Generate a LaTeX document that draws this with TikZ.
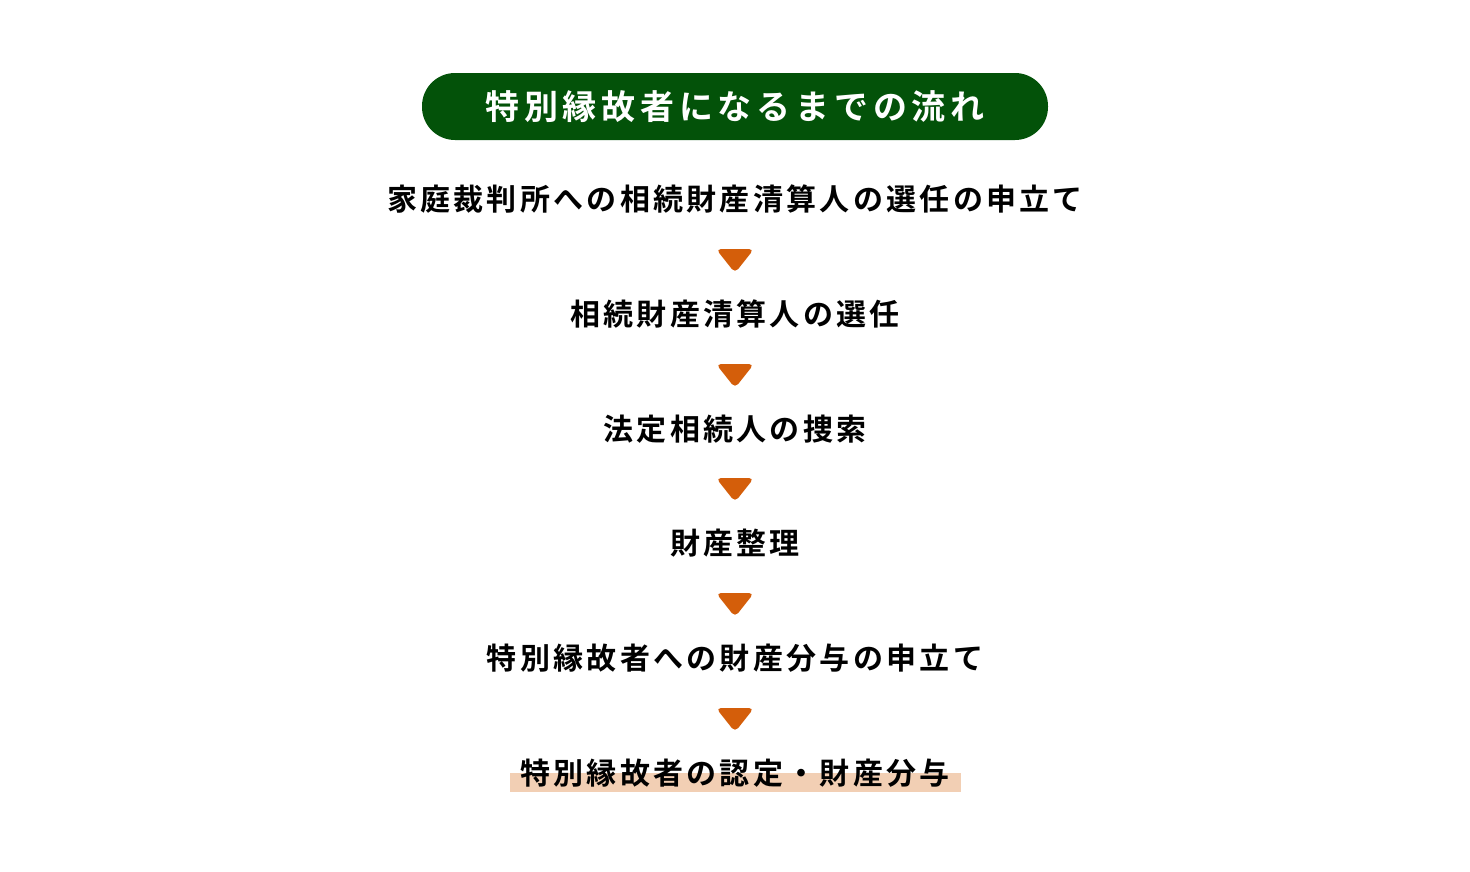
\documentclass[tikz,border=0pt]{standalone}
\usepackage{fontspec}
\usepackage{tikz}
\setmainfont{Noto Sans CJK JP}
\newfontfamily\headfont[LetterSpace=14]{Noto Sans CJK JP Bold}
\newfontfamily\stagefont[LetterSpace=11]{Noto Sans CJK JP Bold}
\definecolor{headgreen}{RGB}{3,82,9}
\definecolor{tiporange}{RGB}{212,94,10}
\definecolor{markpeach}{RGB}{242,207,180}

\begin{document}
\begin{tikzpicture}[x=1pt,y=-1pt,
  headbox/.style={fill=headgreen,text=white,rounded corners=33pt,
    minimum width=626pt,minimum height=67pt,inner sep=0pt,
    font=\headfont\fontsize{34}{34}\selectfont},
  stage/.style={inner sep=0pt,font=\stagefont\fontsize{30}{30}\selectfont}]
\useasboundingbox (0,0) rectangle (1470,871);

\node[headbox] (head) at (735,106.5) {特別縁故者になるまでの流れ};

% highlight under the last step
\fill[markpeach] (510,773) rectangle (961,792);

\node[stage] (s1) at (735,199) {家庭裁判所への相続財産清算人の選任の申立て};
\node[stage] (s2) at (735,314) {相続財産清算人の選任};
\node[stage] (s3) at (735,429) {法定相続人の捜索};
\node[stage] (s4) at (735,543) {財産整理};
\node[stage] (s5) at (735,658) {特別縁故者への財産分与の申立て};
\node[stage] (s6) at (735,773) {特別縁故者の認定・財産分与};

\foreach \y in {261,376,490,605,720}
  \fill[tiporange,rounded corners=5pt] (716,\y-12) -- (754,\y-12) -- (735,\y+12) -- cycle;
\end{tikzpicture}
\end{document}
